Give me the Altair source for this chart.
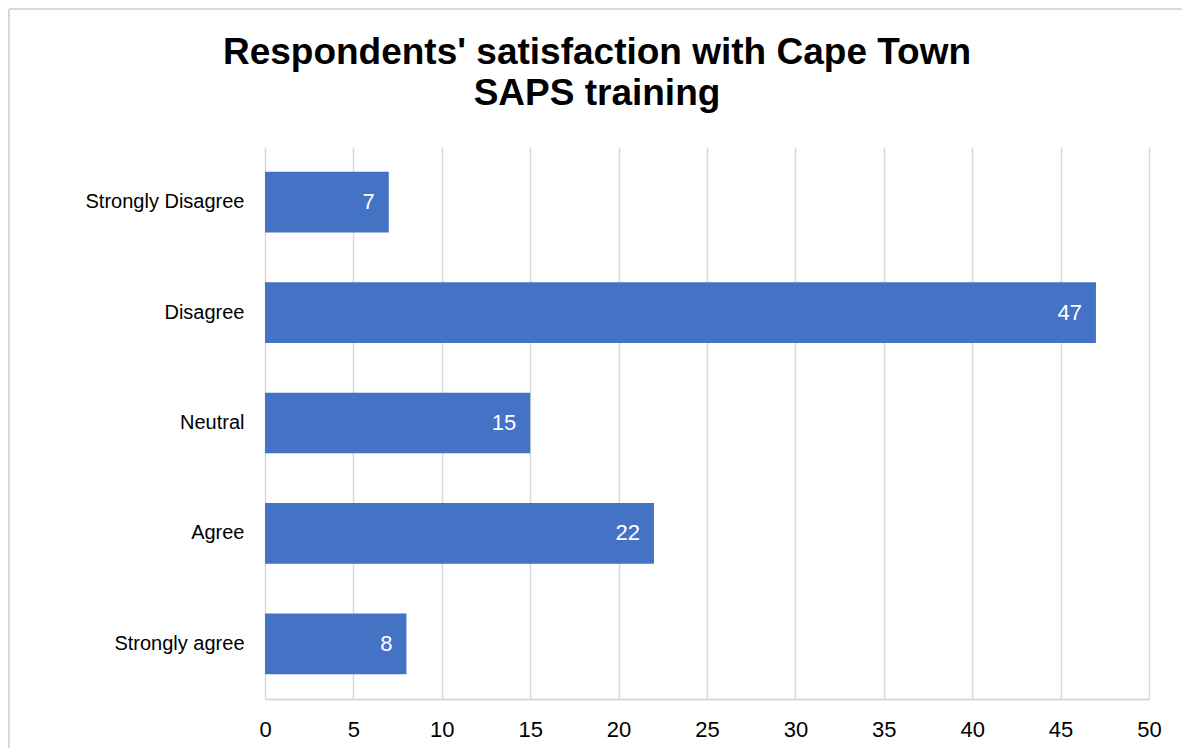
import altair as alt
import pandas as pd

categories = ["Strongly Disagree", "Disagree", "Neutral ", "Agree", "Strongly  agree"]
values = [7, 47, 15, 22, 8]
x_ticks = [0, 5, 10, 15, 20, 25, 30, 35, 40, 45, 50]

df = pd.DataFrame({"cat": categories, "val": values})

FONT = "Liberation Sans"
PLOT_W, PLOT_H = 884, 552
PAD = {"left": 257, "top": 139, "right": 33, "bottom": 49}

base = alt.Chart(df).encode(
    y=alt.Y("cat:N", sort=categories, title=None,
            scale=alt.Scale(paddingInner=0.45, paddingOuter=0.225),
            axis=alt.Axis(labelFont=FONT, labelFontSize=20, labelColor="#000000",
                          labelPadding=21, ticks=False, domain=False, grid=False)),
)

bars = base.mark_bar(color="#4472C4").encode(
    x=alt.X("val:Q", title=None,
            scale=alt.Scale(domain=[0, 50], nice=False),
            axis=alt.Axis(values=x_ticks, labelFont=FONT, labelFontSize=22,
                          labelColor="#000000", labelPadding=20, ticks=False,
                          labelFlush=False,
                          domain=True, domainColor="#d9d9d9", domainWidth=2,
                          grid=True, gridColor="#d9d9d9", gridWidth=1.5))
)

labels = base.mark_text(align="right", baseline="middle", dx=-14, color="#ffffff",
                        font=FONT, fontSize=22).encode(
    x="val:Q", text="val:Q"
)

# outer chart frame (decoration)
frame_top = alt.Chart(df).mark_rule(color="#d9d9d9", strokeWidth=2).encode(
    x=alt.value(-PAD["left"] + 1), x2=alt.value(PLOT_W + PAD["right"]),
    y=alt.value(-PAD["top"] + 1)
)
frame_left = alt.Chart(df).mark_rule(color="#d9d9d9", strokeWidth=2).encode(
    x=alt.value(-PAD["left"] + 1),
    y=alt.value(-PAD["top"] + 1), y2=alt.value(PLOT_H + PAD["bottom"])
)

chart = (bars + labels + frame_top + frame_left).properties(
    width=PLOT_W, height=PLOT_H,
    title=alt.TitleParams(
        ["Respondents' satisfaction with Cape Town", "SAPS training"],
        font=FONT, fontSize=37, fontWeight="bold", color="#000000",
        anchor="middle", dx=-110, offset=-105, lineHeight=41,
    ),
    autosize=alt.AutoSizeParams(type="none"),
    padding=PAD,
).configure_view(stroke=None)

chart.save("out.html", embed_options={"renderer": "svg", "actions": False})
